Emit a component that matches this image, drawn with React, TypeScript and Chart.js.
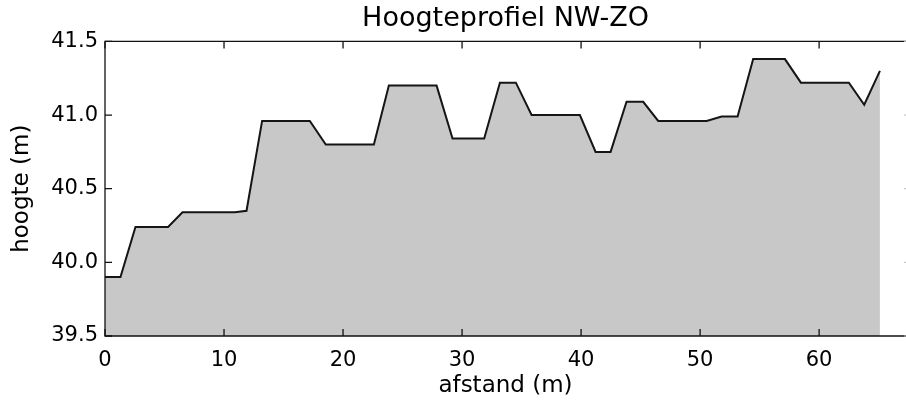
import React, { useEffect, useRef } from "react";
import { Chart, registerables } from "chart.js";

Chart.register(...registerables);

const TITLE = "Hoogteprofiel NW-ZO";
const X_LABEL = "afstand (m)";
const Y_LABEL = "hoogte (m)";

// distance along the profile (m)
const distances = [
  0, 1.3, 2.56, 5.3, 6.51, 10.91, 11.89, 13.2, 17.21, 18.55, 22.59, 23.85,
  27.86, 29.2, 31.86, 33.18, 34.52, 35.84, 39.9, 41.22, 42.48, 43.82, 45.22,
  46.48, 50.55, 51.81, 53.15, 54.46, 57.13, 58.47, 62.5, 63.79, 65.11,
];

// elevation (m)
const heights = [
  39.9, 39.9, 40.24, 40.24, 40.34, 40.34, 40.35, 40.96, 40.96, 40.8, 40.8,
  41.2, 41.2, 40.84, 40.84, 41.22, 41.22, 41.0, 41.0, 40.75, 40.75, 41.09,
  41.09, 40.96, 40.96, 40.99, 40.99, 41.38, 41.38, 41.22, 41.22, 41.07, 41.3,
];

const xTicks = [0, 10, 20, 30, 40, 50, 60];
const yTicks = [39.5, 40.0, 40.5, 41.0, 41.5];

const X_MIN = 0;
const X_MAX = 67.3; // the right edge of the axes is cropped in the reference
const Y_MIN = 39.5;
const Y_MAX = 41.5;

const FONT = "'DejaVu Sans', 'Liberation Sans', sans-serif";

const frameTicks = {
  id: "frameTicks",
  afterDatasetsDraw(chart: any) {
    const { ctx, chartArea: a, scales } = chart;
    ctx.save();
    ctx.strokeStyle = "#111";
    ctx.lineWidth = 1.3;
    ctx.beginPath();
    ctx.moveTo(a.right + 2, a.top);
    ctx.lineTo(a.left, a.top);
    ctx.lineTo(a.left, a.bottom);
    ctx.lineTo(a.right + 2, a.bottom);
    ctx.stroke();
    const L = 7;
    ctx.beginPath();
    for (const v of xTicks) {
      const px = scales.x.getPixelForValue(v);
      ctx.moveTo(px, a.bottom);
      ctx.lineTo(px, a.bottom - L);
      ctx.moveTo(px, a.top);
      ctx.lineTo(px, a.top + L);
    }
    for (const v of yTicks) {
      const py = scales.y.getPixelForValue(v);
      ctx.moveTo(a.left, py);
      ctx.lineTo(a.left + L, py);
    }
    ctx.stroke();
    ctx.strokeStyle = "#bbb";
    ctx.lineWidth = 1;
    ctx.beginPath();
    for (const v of yTicks) {
      const py = scales.y.getPixelForValue(v);
      ctx.moveTo(a.right, py);
      ctx.lineTo(a.right - 2, py);
    }
    ctx.stroke();
    ctx.restore();
  },
};

export default function App() {
  const ref = useRef<HTMLCanvasElement | null>(null);

  useEffect(() => {
    document.body.style.margin = "0";
    document.documentElement.style.overflow = "hidden";
    document.body.style.overflow = "hidden";
    const canvas = ref.current;
    if (!canvas) return;
    const chart = new Chart(canvas, {
      type: "line",
      data: {
        datasets: [
          {
            data: distances.map((d, i) => ({ x: d, y: heights[i] })),
            borderColor: "#151515",
            borderWidth: 2,
            backgroundColor: "#c8c8c8",
            fill: "start",
            pointRadius: 0,
            tension: 0,
          },
        ],
      },
      options: {
        animation: false,
        responsive: false,
        layout: { padding: { left: 0, right: 0, top: 0, bottom: 0 } },
        plugins: {
          legend: { display: false },
          tooltip: { enabled: false },
          title: {
            display: true,
            fullSize: false,
            text: TITLE,
            color: "#000",
            font: { family: FONT, size: 27, weight: "normal" },
            padding: { top: 3, bottom: 6 },
          },
        },
        scales: {
          x: {
            type: "linear",
            min: X_MIN,
            max: X_MAX,
            afterBuildTicks: (s: any) => {
              s.ticks = xTicks.map((v) => ({ value: v }));
            },
            afterFit: (s: any) => {
              s.height = 71;
            },
            grid: { display: false, drawTicks: false },
            border: { display: false },
            ticks: {
              color: "#000",
              padding: 12,
              maxRotation: 0,
              font: { family: FONT, size: 21 },
              callback: (v: any) => String(v),
            },
            title: {
              display: true,
              text: X_LABEL,
              color: "#000",
              font: { family: FONT, size: 23 },
              padding: { top: 0, bottom: 7 },
            },
          },
          y: {
            type: "linear",
            min: Y_MIN,
            max: Y_MAX,
            afterBuildTicks: (s: any) => {
              s.ticks = yTicks.map((v) => ({ value: v }));
            },
            afterFit: (s: any) => {
              s.width = 105;
            },
            grid: { display: false, drawTicks: false },
            border: { display: false },
            ticks: {
              color: "#000",
              padding: 7,
              font: { family: FONT, size: 21 },
              callback: (v: any) => Number(v).toFixed(1),
            },
            title: {
              display: true,
              text: Y_LABEL,
              color: "#000",
              font: { family: FONT, size: 23 },
              padding: { top: 8, bottom: 0 },
            },
          },
        },
      },
      plugins: [frameTicks],
    });
    return () => chart.destroy();
  }, []);

  return (
    <div style={{ width: 906, height: 407, overflow: "hidden" }}>
      <canvas ref={ref} width={906} height={407} />
    </div>
  );
}
